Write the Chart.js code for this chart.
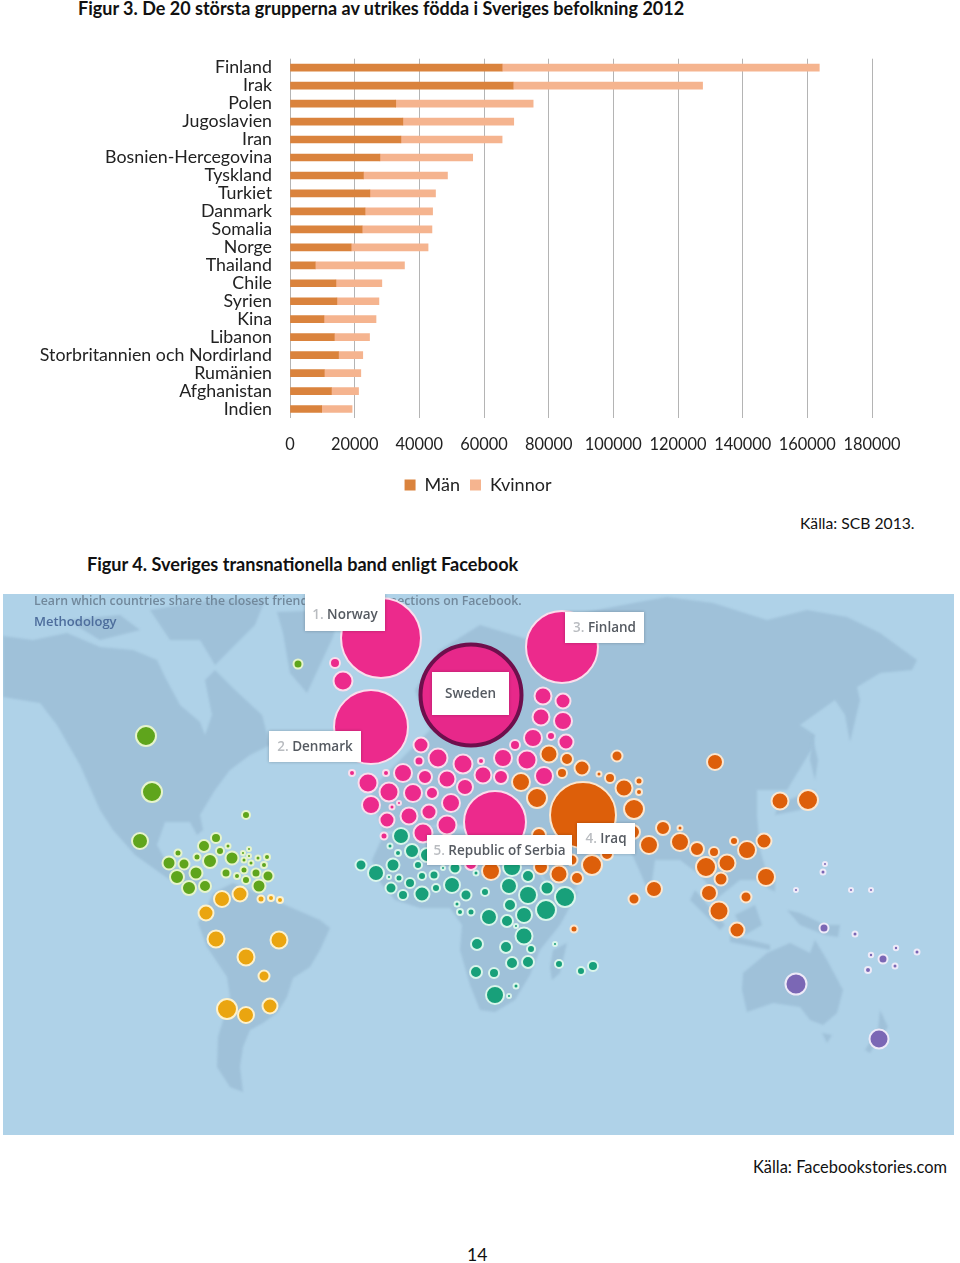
<!DOCTYPE html>
<html lang="sv">
<head>
<meta charset="utf-8">
<title>Figur 3 och 4</title>
<script src="https://cdn.jsdelivr.net/npm/chart.js@4"></script>
<style>
    html, body { margin: 0; padding: 0; background: #fff; }
    body { position: relative; width: 960px; height: 1263px; overflow: hidden; font-family: Lato, sans-serif; color: #111; }
    canvas { position: absolute; display: block; }
    .txt { position: absolute; white-space: nowrap; font-size: 16.4px; line-height: 22px; }
    .bold { font-weight: 700; font-size: 18.1px; }
</style>
</head>
<body>
<div class="txt bold" style="left:78px;top:-3px;font-size:18px">Figur 3. De 20 största grupperna av utrikes födda i Sveriges befolkning 2012</div>
<canvas id="barChart" width="960" height="512" style="left:0;top:0"></canvas>
<div class="txt" style="left:800px;top:512px;font-size:15.7px">Källa: SCB 2013.</div>
<div class="txt bold" style="left:87px;top:553px">Figur 4. Sveriges transnationella band enligt Facebook</div>
<canvas id="mapChart" width="951" height="541" style="left:3px;top:594px"></canvas>
<div class="txt" style="left:753px;top:1156px">Källa: Facebookstories.com</div>
<div class="txt" style="left:467px;top:1244px;font-size:17.6px">14</div>

<script>
// ---------------- FIGUR 3 DATA ----------------
const countries = ["Finland", "Irak", "Polen", "Jugoslavien", "Iran", "Bosnien-Hercegovina", "Tyskland", "Turkiet", "Danmark", "Somalia",
    "Norge", "Thailand", "Chile", "Syrien", "Kina", "Libanon", "Storbritannien och Nordirland", "Rumänien", "Afghanistan", "Indien"];
const man = [65600, 69000, 32700, 34900, 34300, 27800, 22700, 24700, 23200, 22300, 18900, 7800, 14200, 14500, 10500, 13700, 15000, 10600, 12800, 9800];
const kvinnor = [98100, 58600, 42500, 34300, 31300, 28700, 26000, 20300, 20900, 21600, 23800, 27600, 14200, 13000, 16100, 10900, 7500, 11300, 8400, 9400];
const barTicks = [0, 20000, 40000, 60000, 80000, 100000, 120000, 140000, 160000, 180000];

// ---------------- FIGUR 4 DATA (x, y, r) ----------------
const pinkBubbles = [[381,638,40],[371,727,37],[562,647,36],[495,822,31],[335,663,5],[343,681,9.5],[421,745,7.5],[352,773,3],[368,783,9.5],[386,773,3],
    [403,773,9],[419,761,4.5],[438,758,9.5],[463,764,9.5],[389,792,9.5],[425,777,7],[447,779,8.5],[465,787,8],[413,793,9],[432,793,6],[371,805,9],
    [392,807,2.5],[399,803,2],[451,803,9],[409,816,8.5],[429,812,7.5],[387,820,7.5],[447,825,9.5],[423,833,9.5],[384,836,3.5],[483,775,8.5],[501,777,7],
    [515,745,5],[533,738,9],[551,736,4],[566,742,7.5],[503,758,9],[527,760,9.5],[544,776,9],[481,761,3],[543,696,8.5],[563,701,7.5],[541,717,8.5],
    [563,721,9],[471,864,6]];
const orangeBubbles = [[583,815,33],[549,754,8.5],[567,759,6],[582,768,7.5],[562,773,5],[521,782,9],[537,798,10],[617,756,5.5],[599,774,2.5],[610,778,5],
    [639,781,3.5],[624,788,8.5],[639,792,3],[634,809,10],[715,762,8],[780,801,8.5],[808,800,10],[663,828,7],[680,828,2.5],[633,832,7],[649,845,9],
    [680,842,9],[697,849,7],[734,841,4],[764,841,7.5],[747,850,9],[714,852,5],[727,863,8.5],[706,867,10],[721,879,6.5],[766,877,9],[654,889,8],
    [634,899,5.5],[709,893,8],[746,897,5.5],[719,911,9.5],[737,930,7.5],[574,929,3.5],[592,865,10],[559,874,8.5],[577,878,6],[607,854,6],[572,860,5.5],
    [491,871,9],[541,867,7],[539,835,7]];
const tealBubbles = [[401,836,8],[390,846,2.5],[412,851,7],[398,853,3],[361,865,5.5],[376,873,8],[393,865,6.5],[418,865,4],[427,855,7],[389,877,2],
    [399,878,3.5],[410,883,5],[422,876,4],[434,875,4.5],[391,888,5.5],[403,895,5],[422,894,7.5],[436,888,4],[452,885,8],[466,895,5.5],[455,868,5.5],
    [443,868,2],[476,873,2.5],[485,892,4],[457,904,2.5],[460,912,3],[471,912,3.5],[489,917,8],[507,921,6],[524,915,8],[510,905,6],[509,886,8],[528,895,9],
    [547,888,6.5],[546,910,10],[565,897,10],[528,876,6],[512,867,9],[477,944,6],[506,947,6],[524,936,8.5],[531,949,4],[512,963,6],[528,962,6],[476,972,6],
    [494,973,5],[495,995,9],[516,986,2.5],[509,996,2],[559,964,4],[581,971,4],[593,966,5],[516,926,2],[555,944,2]];
const greenBubbles = [[298,664,4.5],[146,736,10],[152,792,10],[140,841,8],[246,815,4],[216,838,5],[204,846,6],[178,853,3.5],[220,851,4],[228,846,2.5],
    [197,857,3.5],[169,863,6.5],[184,864,5.5],[210,861,7],[232,858,6.5],[243,853,2],[249,849,2],[249,856,2],[258,858,2.5],[267,857,3],[244,860,2.5],
    [251,863,2.5],[264,865,3],[177,877,7],[196,873,6.5],[226,873,4.5],[237,876,3],[244,870,3.5],[256,873,4.5],[268,876,5.5],[246,880,4],[189,888,7],[205,886,6],[259,886,6.5]];
const yellowBubbles = [[222,899,8],[240,894,7.5],[261,899,3.5],[271,898,3],[280,900,3],[206,913,7.5],[216,939,8.5],[279,940,8.5],[246,957,8.5],[264,976,5.5],
    [227,1009,10],[246,1015,8],[270,1006,7.5]];
const purpleBubbles = [[796,984,10.5],[879,1039,9.5],[824,928,4.5],[883,959,4.5],[855,934,2.5],[868,970,3],[917,952,2.5],[895,966,2.5],[871,955,2.2],[896,948,2.2],
    [823,872,2.5],[825,864,2],[796,890,2],[851,890,2],[871,890,2]];
const swedenBubble = [[471,695,50.5]];

// land shapes behind the bubbles, same coordinates as the bubbles
const landShapes = [
    [[3,636],[33,640],[67,633],[100,647],[133,650],[157,660],[165,677],[180,705],[200,722],[205,735],[212,715],[205,680],[215,670],[235,690],[262,715],[270,745],[250,755],[230,770],[215,790],[200,815],[203,830],[197,835],[190,822],[165,822],[157,845],[170,868],[190,868],[213,885],[195,888],[170,880],[135,855],[113,830],[100,810],[80,765],[57,725],[40,703],[3,697]],
    [[67,620],[120,615],[140,630],[100,640]],
    [[150,610],[210,600],[265,600],[255,625],[230,650],[215,665],[200,640],[170,640]],
    [[277,612],[340,610],[333,637],[307,693],[290,673],[283,633]],
    [[213,893],[233,883],[267,897],[290,907],[320,920],[330,928],[320,950],[310,967],[293,978],[287,997],[277,1013],[263,1023],[250,1030],[243,1047],[240,1067],[243,1092],[230,1087],[217,1067],[218,1037],[230,997],[227,977],[207,947],[198,923],[207,907]],
    [[383,836],[420,825],[460,830],[510,835],[530,855],[548,890],[578,892],[560,925],[540,950],[530,975],[515,1000],[495,1012],[480,1010],[470,985],[460,950],[462,925],[450,908],[420,908],[395,900],[378,880],[372,860]],
    [[553,950],[567,943],[560,973],[552,980],[550,967]],
    [[383,832],[370,790],[430,730],[415,690],[440,650],[480,625],[530,640],[540,625],[570,615],[650,600],[667,597],[713,603],[767,620],[807,610],[847,617],[880,633],[917,660],[912,670],[880,673],[857,687],[860,700],[850,742],[845,715],[835,700],[800,725],[815,735],[813,747],[787,790],[757,790],[757,815],[760,850],[772,890],[755,880],[740,880],[715,900],[712,890],[700,875],[680,860],[655,860],[650,895],[637,865],[630,850],[600,855],[590,860],[575,890],[545,880],[530,855],[510,832],[490,825],[440,825]],
    [[812,735],[818,760],[815,780],[810,760]],
    [[815,790],[800,810],[775,815],[778,805],[800,795]],
    [[763,870],[775,875],[775,892],[766,885]],
    [[695,890],[725,925],[720,930],[690,900]],
    [[730,935],[770,945],[770,950],[730,942]],
    [[735,915],[755,905],[762,925],[745,935]],
    [[787,910],[800,913],[825,925],[840,925],[838,937],[825,935],[800,925]],
    [[743,973],[767,953],[790,943],[810,953],[815,940],[827,960],[843,990],[837,1013],[823,1025],[810,1020],[800,1007],[773,1003],[747,1012],[742,990]],
    [[822,1033],[832,1035],[827,1043]],
    [[880,1010],[888,1027],[878,1040],[870,1053],[865,1050],[878,1030]]
];

// callout boxes on top of the bubbles: rank, name, left, top, right, bottom
const callouts = [["1.", "Norway", 305, 594, 385, 631], ["2.", "Denmark", 269, 731, 361, 762], ["3.", "Finland", 565, 612, 644, 643],
    ["4.", "Iraq", 577, 823, 635, 854], ["5.", "Republic of Serbia", 427, 835, 572, 865], ["", "Sweden", 432, 672, 509, 715]];

// the legend centres on the plot width, push it over to where the original has it
const legendShift = {
    id: "legendShift",
    afterLayout(chart) {
        chart.legend.left += 42;
        chart.legend.right += 42;
    }
};

// ===================== FIGUR 3: STACKED BARS =====================
new Chart(document.getElementById("barChart"), {
    type: "bar",
    data: {
        labels: countries,
        datasets: [
            { label: "Män", data: man, backgroundColor: "#DA833D", barThickness: 7 },
            { label: "Kvinnor", data: kvinnor, backgroundColor: "#F5B48F", barThickness: 7 }
        ]
    },
    options: {
        indexAxis: "y",
        responsive: false,
        animation: false,
        events: [],
        layout: { padding: { top: 58.7, right: 88, bottom: 8 } },
        plugins: {
            tooltip: { enabled: false },
            legend: {
                position: "bottom",
                labels: { boxWidth: 11, boxHeight: 11, padding: 10, color: "#222", font: { family: "Lato", size: 18 } }
            }
        },
        scales: {
            x: {
                stacked: true,
                min: 0,
                max: 180000,
                afterBuildTicks(axis) { axis.ticks = barTicks.map(v => ({ value: v })); },
                afterFit(axis) { axis.height = 48; },
                border: { display: false },
                grid: { color: "#b4b4b4", drawTicks: false },
                ticks: { padding: 17, maxRotation: 0, autoSkip: false, color: "#222", callback: v => String(v), font: { family: "Lato", size: 16.4 } }
            },
            y: {
                stacked: true,
                afterFit(axis) { axis.width = 290; },
                border: { display: false },
                grid: { display: false, drawTicks: false },
                ticks: { padding: 18, autoSkip: false, color: "#222", font: { family: "Lato", size: 17.8 } }
            }
        }
    },
    plugins: [legendShift]
});

// ---------------- MAP PLUGIN: land below, callouts above ----------------
const mapDecor = {
    id: "mapDecor",
    beforeDatasetsDraw(chart) {
        const { ctx, scales: { x, y }, chartArea: a } = chart;
        ctx.save();
        ctx.fillStyle = "#AFD2E8";
        ctx.fillRect(a.left, a.top, a.width, a.height);
        ctx.filter = "blur(1.2px)";
        ctx.fillStyle = "#9FC1D9";
        landShapes.forEach(shape => {
            ctx.beginPath();
            shape.forEach((p, i) => {
                if (i === 0) ctx.moveTo(x.getPixelForValue(p[0]), y.getPixelForValue(p[1]));
                else ctx.lineTo(x.getPixelForValue(p[0]), y.getPixelForValue(p[1]));
            });
            ctx.closePath();
            ctx.fill();
        });
        ctx.filter = "none";
        ctx.textBaseline = "middle";
        ctx.textAlign = "left";
        ctx.font = "600 12.3px 'Open Sans'";
        ctx.fillStyle = "#71889b";
        ctx.fillText("Learn which countries share the closest friendships and connections on Facebook.", x.getPixelForValue(34), y.getPixelForValue(601.5));
        ctx.font = "600 13px 'Open Sans'";
        ctx.fillStyle = "#4d6d9c";
        ctx.fillText("Methodology", x.getPixelForValue(34), y.getPixelForValue(622));
        ctx.restore();
    },
    afterDatasetsDraw(chart) {
        const { ctx, scales: { x, y } } = chart;
        ctx.save();
        ctx.textBaseline = "middle";
        callouts.forEach(c => {
            const left = x.getPixelForValue(c[2]), top = y.getPixelForValue(c[3]);
            const right = x.getPixelForValue(c[4]), bottom = y.getPixelForValue(c[5]);
            ctx.shadowColor = "rgba(0,0,0,0.25)";
            ctx.shadowBlur = 3;
            ctx.fillStyle = "#fff";
            ctx.fillRect(left, top, right - left, bottom - top);
            ctx.shadowColor = "transparent";
            ctx.font = "600 13.5px 'Open Sans'";
            const label = c[0] ? c[0] + " " : "";
            const total = ctx.measureText(label + c[1]).width;
            let tx = left + (right - left - total) / 2;
            const ty = c[1] === "Norway" ? 615 : (c[3] + c[5]) / 2 + 1;
            ctx.textAlign = "left";
            ctx.fillStyle = "#b9bcc0";
            ctx.fillText(label, tx, y.getPixelForValue(ty));
            tx += ctx.measureText(label).width;
            ctx.fillStyle = "#555a61";
            ctx.fillText(c[1], tx, y.getPixelForValue(ty));
        });
        ctx.restore();
    }
};

function bubbleSet(points, fill, edge, width) {
    return {
        data: points.map(p => ({ x: p[0], y: p[1], r: p[2] })),
        backgroundColor: fill,
        borderColor: edge,
        borderWidth: width || 2
    };
}

// ===================== FIGUR 4: BUBBLE MAP =====================
new Chart(document.getElementById("mapChart"), {
    type: "bubble",
    data: {
        datasets: [
            bubbleSet(greenBubbles, "#5FA51C", "#E6F4CC"),
            bubbleSet(yellowBubbles, "#EAA510", "#FDF1CC"),
            bubbleSet(tealBubbles, "#18A07A", "#D9F5EB"),
            bubbleSet(orangeBubbles, "#DD5F0A", "#FBE6CF"),
            bubbleSet(pinkBubbles, "#EC2A8C", "#FBDDEC"),
            bubbleSet(purpleBubbles, "#7B67B5", "#EEEAF8"),
            bubbleSet(swedenBubble, "#E7288A", "#6E0F4C", 4)
        ]
    },
    options: {
        responsive: false,
        animation: false,
        events: [],
        layout: { padding: 0, autoPadding: false },
        plugins: { legend: { display: false }, tooltip: { enabled: false } },
        scales: {
            x: { type: "linear", display: false, min: 3, max: 954 },
            y: { type: "linear", display: false, reverse: true, min: 594, max: 1135 }
        }
    },
    plugins: [mapDecor]
});
</script>
</body>
</html>
